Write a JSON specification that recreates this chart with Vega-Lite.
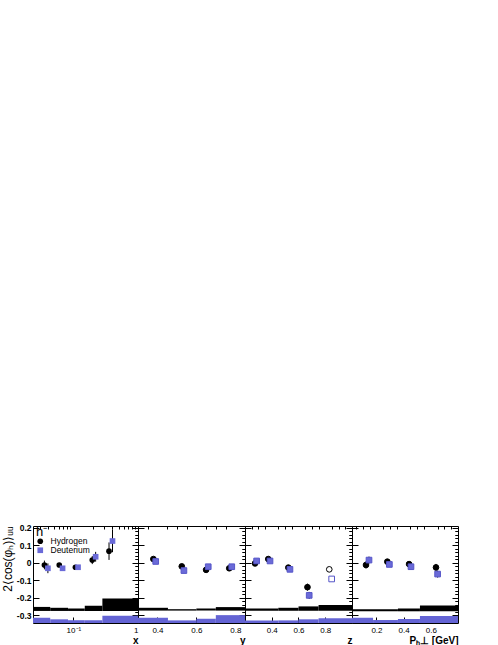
{
  "$schema": "https://vega.github.io/schema/vega-lite/v6.json",
  "padding": {"left": 0, "top": 523, "right": 0, "bottom": 0},
  "background": "white",
  "bounds": "flush",
  "spacing": 0,
  "datasets": {
    "pts": [
      {"p": 1, "s": "Hydrogen", "x": 0.0356, "v": -0.013, "lo": -0.038, "hi": 0.012, "open": false},
      {"p": 1, "s": "Hydrogen", "x": 0.0604, "v": -0.013, "lo": -0.023, "hi": -0.003, "open": false},
      {"p": 1, "s": "Hydrogen", "x": 0.1075, "v": -0.026, "lo": -0.033, "hi": -0.019, "open": false},
      {"p": 1, "s": "Hydrogen", "x": 0.196, "v": 0.015, "lo": -0.008, "hi": 0.038, "open": false},
      {"p": 1, "s": "Hydrogen", "x": 0.356, "v": 0.066, "lo": 0.016, "hi": 0.116, "open": false},
      {"p": 1, "s": "Deuterium", "x": 0.0403, "v": -0.032, "lo": -0.06, "hi": -0.004, "open": false},
      {"p": 1, "s": "Deuterium", "x": 0.068, "v": -0.032, "lo": -0.04, "hi": -0.024, "open": false},
      {"p": 1, "s": "Deuterium", "x": 0.118, "v": -0.026, "lo": -0.033, "hi": -0.019, "open": false},
      {"p": 1, "s": "Deuterium", "x": 0.221, "v": 0.034, "lo": 0.006, "hi": 0.062, "open": false},
      {"p": 1, "s": "Deuterium", "x": 0.403, "v": 0.124, "lo": 0.06, "hi": 0.19, "open": false},
      {"p": 2, "s": "Hydrogen", "x": 0.379, "v": 0.021, "lo": 0.013, "hi": 0.029, "open": false},
      {"p": 2, "s": "Hydrogen", "x": 0.525, "v": -0.021, "lo": -0.029, "hi": -0.013, "open": false},
      {"p": 2, "s": "Hydrogen", "x": 0.65, "v": -0.041, "lo": -0.053, "hi": -0.029, "open": false},
      {"p": 2, "s": "Hydrogen", "x": 0.769, "v": -0.032, "lo": -0.047, "hi": -0.017, "open": false},
      {"p": 2, "s": "Deuterium", "x": 0.391, "v": 0.007, "lo": -0.001, "hi": 0.015, "open": false},
      {"p": 2, "s": "Deuterium", "x": 0.536, "v": -0.045, "lo": -0.053, "hi": -0.037, "open": false},
      {"p": 2, "s": "Deuterium", "x": 0.661, "v": -0.023, "lo": -0.035, "hi": -0.011, "open": false},
      {"p": 2, "s": "Deuterium", "x": 0.782, "v": -0.023, "lo": -0.038, "hi": -0.008, "open": false},
      {"p": 3, "s": "Hydrogen", "x": 0.275, "v": -0.004, "lo": -0.012, "hi": 0.004, "open": false},
      {"p": 3, "s": "Hydrogen", "x": 0.374, "v": 0.021, "lo": 0.013, "hi": 0.029, "open": false},
      {"p": 3, "s": "Hydrogen", "x": 0.524, "v": -0.028, "lo": -0.038, "hi": -0.018, "open": false},
      {"p": 3, "s": "Hydrogen", "x": 0.667, "v": -0.14, "lo": -0.16, "hi": -0.12, "open": false},
      {"p": 3, "s": "Hydrogen", "x": 0.83, "v": -0.038, "lo": -0.05, "hi": -0.026, "open": true},
      {"p": 3, "s": "Deuterium", "x": 0.287, "v": 0.01, "lo": 0.002, "hi": 0.018, "open": false},
      {"p": 3, "s": "Deuterium", "x": 0.387, "v": 0.01, "lo": 0.002, "hi": 0.018, "open": false},
      {"p": 3, "s": "Deuterium", "x": 0.536, "v": -0.038, "lo": -0.048, "hi": -0.028, "open": false},
      {"p": 3, "s": "Deuterium", "x": 0.68, "v": -0.187, "lo": -0.207, "hi": -0.167, "open": false},
      {"p": 3, "s": "Deuterium", "x": 0.848, "v": -0.093, "lo": -0.105, "hi": -0.081, "open": true},
      {"p": 4, "s": "Hydrogen", "x": 0.123, "v": -0.013, "lo": -0.033, "hi": 0.007, "open": false},
      {"p": 4, "s": "Hydrogen", "x": 0.28, "v": 0.006, "lo": -0.004, "hi": 0.016, "open": false},
      {"p": 4, "s": "Hydrogen", "x": 0.44, "v": -0.008, "lo": -0.018, "hi": 0.002, "open": false},
      {"p": 4, "s": "Hydrogen", "x": 0.638, "v": -0.027, "lo": -0.047, "hi": -0.007, "open": false},
      {"p": 4, "s": "Deuterium", "x": 0.145, "v": 0.015, "lo": -0.005, "hi": 0.035, "open": false},
      {"p": 4, "s": "Deuterium", "x": 0.295, "v": -0.01, "lo": -0.02, "hi": 0.0, "open": false},
      {"p": 4, "s": "Deuterium", "x": 0.454, "v": -0.023, "lo": -0.033, "hi": -0.013, "open": false},
      {"p": 4, "s": "Deuterium", "x": 0.65, "v": -0.065, "lo": -0.085, "hi": -0.045, "open": false}
    ],
    "hist": [
      {"p": 1, "s": "H", "x0": 0.0237, "x1": 0.0438, "lo": -0.276, "hi": -0.253},
      {"p": 1, "s": "H", "x0": 0.0438, "x1": 0.0826, "lo": -0.276, "hi": -0.258},
      {"p": 1, "s": "H", "x0": 0.0826, "x1": 0.15, "lo": -0.276, "hi": -0.262},
      {"p": 1, "s": "H", "x0": 0.15, "x1": 0.281, "lo": -0.276, "hi": -0.247},
      {"p": 1, "s": "H", "x0": 0.281, "x1": 1.0, "lo": -0.276, "hi": -0.205},
      {"p": 1, "s": "D", "x0": 0.0237, "x1": 0.0438, "lo": -0.345, "hi": -0.315},
      {"p": 1, "s": "D", "x0": 0.0438, "x1": 0.0826, "lo": -0.345, "hi": -0.324},
      {"p": 1, "s": "D", "x0": 0.0826, "x1": 0.15, "lo": -0.345, "hi": -0.329},
      {"p": 1, "s": "D", "x0": 0.15, "x1": 0.281, "lo": -0.345, "hi": -0.329},
      {"p": 1, "s": "D", "x0": 0.281, "x1": 1.0, "lo": -0.345, "hi": -0.303},
      {"p": 2, "s": "H", "x0": 0.3, "x1": 0.454, "lo": -0.274, "hi": -0.258},
      {"p": 2, "s": "H", "x0": 0.454, "x1": 0.6, "lo": -0.274, "hi": -0.266},
      {"p": 2, "s": "H", "x0": 0.6, "x1": 0.7, "lo": -0.274, "hi": -0.262},
      {"p": 2, "s": "H", "x0": 0.7, "x1": 0.85, "lo": -0.274, "hi": -0.254},
      {"p": 2, "s": "D", "x0": 0.3, "x1": 0.454, "lo": -0.345, "hi": -0.315},
      {"p": 2, "s": "D", "x0": 0.454, "x1": 0.6, "lo": -0.345, "hi": -0.33},
      {"p": 2, "s": "D", "x0": 0.6, "x1": 0.7, "lo": -0.345, "hi": -0.32},
      {"p": 2, "s": "D", "x0": 0.7, "x1": 0.85, "lo": -0.345, "hi": -0.3},
      {"p": 3, "s": "H", "x0": 0.2, "x1": 0.449, "lo": -0.275, "hi": -0.262},
      {"p": 3, "s": "H", "x0": 0.449, "x1": 0.6, "lo": -0.275, "hi": -0.258},
      {"p": 3, "s": "H", "x0": 0.6, "x1": 0.75, "lo": -0.275, "hi": -0.25},
      {"p": 3, "s": "H", "x0": 0.75, "x1": 1.0, "lo": -0.275, "hi": -0.242},
      {"p": 3, "s": "D", "x0": 0.2, "x1": 0.449, "lo": -0.345, "hi": -0.33},
      {"p": 3, "s": "D", "x0": 0.449, "x1": 0.6, "lo": -0.345, "hi": -0.33},
      {"p": 3, "s": "D", "x0": 0.6, "x1": 0.75, "lo": -0.345, "hi": -0.324},
      {"p": 3, "s": "D", "x0": 0.75, "x1": 1.0, "lo": -0.345, "hi": -0.318},
      {"p": 4, "s": "H", "x0": 0.02, "x1": 0.358, "lo": -0.278, "hi": -0.267},
      {"p": 4, "s": "H", "x0": 0.358, "x1": 0.52, "lo": -0.278, "hi": -0.262},
      {"p": 4, "s": "H", "x0": 0.52, "x1": 0.8, "lo": -0.278, "hi": -0.245},
      {"p": 4, "s": "D", "x0": 0.02, "x1": 0.175, "lo": -0.345, "hi": -0.315},
      {"p": 4, "s": "D", "x0": 0.175, "x1": 0.358, "lo": -0.345, "hi": -0.328},
      {"p": 4, "s": "D", "x0": 0.358, "x1": 0.52, "lo": -0.345, "hi": -0.322},
      {"p": 4, "s": "D", "x0": 0.52, "x1": 0.8, "lo": -0.345, "hi": -0.305}
    ]
  },
  "hconcat": [
    {
      "width": 105, "height": 97,
      "layer": [
        {
          "data": {"name": "hist"},
          "transform": [{"filter": "datum.p == 1 && datum.s == 'H'"}],
          "mark": {"type": "rect", "color": "black"},
          "encoding": {
            "x": {"field": "x0", "type": "quantitative", "scale": {"type": "log", "domain": [0.0237, 1], "nice": false},
                  "axis": {"values": [0.1, 1], "labelExpr": "datum.value == 1 ? '1' : '10⁻¹'", "tickSize": -6, "labelPadding": 9, "title": "x", "titleAnchor": "end", "titleFontSize": 10, "titleFontWeight": "bold", "titlePadding": 1}},
            "x2": {"field": "x1"},
            "y": {"field": "lo", "type": "quantitative", "scale": {"domain": [-0.345, 0.21], "nice": false, "zero": false},
                  "axis": {"values": [-0.3, -0.2, -0.1, 0, 0.1, 0.2], "tickSize": -6, "labelPadding": 8, "labelFontSize": 8.5, "labelFontWeight": "bold", "labelExpr": "datum.value == 0 ? '0' : replace(format(datum.value, '.1f'), '−', '-')", "title": "2⟨cos(φₕ)⟩ᵤᵤ", "titleAnchor": "end", "titleFontSize": 12, "titlePadding": 2}},
            "y2": {"field": "hi"}
          }
        },
        {
          "data": {"name": "hist"},
          "transform": [{"filter": "datum.p == 1 && datum.s == 'D'"}],
          "mark": {"type": "rect", "color": "#6464d4"},
          "encoding": {
            "x": {"field": "x0", "type": "quantitative", "scale": {"type": "log", "domain": [0.0237, 1], "nice": false},
                  "axis": {"values": [0.03, 0.04, 0.05, 0.06, 0.07, 0.08, 0.09, 0.2, 0.3, 0.4, 0.5, 0.6, 0.7, 0.8, 0.9], "tickSize": -3, "labels": false, "title": null}},
            "x2": {"field": "x1"},
            "y": {"field": "lo", "type": "quantitative", "scale": {"domain": [-0.345, 0.21], "nice": false, "zero": false},
                  "axis": {"values": [-0.34, -0.32, -0.28, -0.26, -0.24, -0.22, -0.18, -0.16, -0.14, -0.12, -0.08, -0.06, -0.04, -0.02, 0.02, 0.04, 0.06, 0.08, 0.12, 0.14, 0.16, 0.18], "tickSize": -3, "labels": false, "title": null}},
            "y2": {"field": "hi"}
          }
        },
        {
          "mark": {"type": "rule", "color": "black", "strokeWidth": 1},
          "encoding": {"y": {"datum": 0, "type": "quantitative", "scale": {"domain": [-0.345, 0.21], "nice": false, "zero": false}, "axis": null}}
        },
        {
          "data": {"name": "pts"},
          "transform": [{"filter": "datum.p == 1"}],
          "mark": {"type": "rule", "strokeWidth": 1, "color": "black"},
          "encoding": {
            "x": {"field": "x", "type": "quantitative", "scale": {"type": "log", "domain": [0.0237, 1], "nice": false}, "axis": null},
            "y": {"field": "lo", "type": "quantitative", "scale": {"domain": [-0.345, 0.21], "nice": false, "zero": false},
                  "axis": {"orient": "right", "values": [-0.3, -0.2, -0.1, 0, 0.1, 0.2], "tickSize": -6, "labels": false, "title": null}},
            "y2": {"field": "hi"}
          }
        },
        {
          "data": {"name": "pts"},
          "transform": [{"filter": "datum.p == 1"}],
          "mark": {"type": "point", "filled": true, "size": 32, "opacity": 1},
          "encoding": {
            "x": {"field": "x", "type": "quantitative", "scale": {"type": "log", "domain": [0.0237, 1], "nice": false}, "axis": null},
            "y": {"field": "v", "type": "quantitative", "scale": {"domain": [-0.345, 0.21], "nice": false, "zero": false},
                  "axis": {"orient": "right", "values": [-0.34, -0.32, -0.28, -0.26, -0.24, -0.22, -0.18, -0.16, -0.14, -0.12, -0.08, -0.06, -0.04, -0.02, 0.02, 0.04, 0.06, 0.08, 0.12, 0.14, 0.16, 0.18], "tickSize": -3, "labels": false, "title": null}},
            "shape": {"field": "s", "type": "nominal", "scale": {"domain": ["Hydrogen", "Deuterium"], "range": ["circle", "square"]},
                      "legend": {"orient": "none", "legendX": 3, "legendY": 0, "title": "h⁻", "titleFontSize": 13, "titleFontWeight": "normal", "titlePadding": -2, "labelFontSize": 8.5, "symbolSize": 32, "rowPadding": 0, "labelOffset": 6}},
            "color": {"field": "s", "type": "nominal", "scale": {"domain": ["Hydrogen", "Deuterium"], "range": ["black", "#6a6ad8"]},
                      "legend": {"orient": "none", "legendX": 3, "legendY": 0, "title": "h⁻", "titleFontSize": 13, "titleFontWeight": "normal", "titlePadding": -2, "labelFontSize": 8.5, "symbolSize": 32, "rowPadding": 0, "labelOffset": 6}}
          }
        }
      ],
      "resolve": {"axis": {"x": "independent", "y": "independent"}}
    },
    {
      "width": 107, "height": 97,
      "layer": [
        {
          "data": {"name": "hist"},
          "transform": [{"filter": "datum.p == 2 && datum.s == 'H'"}],
          "mark": {"type": "rect", "color": "black"},
          "encoding": {
            "x": {"field": "x0", "type": "quantitative", "scale": {"domain": [0.3, 0.85], "nice": false, "zero": false},
                  "axis": {"values": [0.4, 0.6, 0.8], "format": ".1f", "tickSize": -6, "labelPadding": 9, "title": "y", "titleAnchor": "end", "titleFontSize": 10, "titleFontWeight": "bold", "titlePadding": 1}},
            "x2": {"field": "x1"},
            "y": {"field": "lo", "type": "quantitative", "scale": {"domain": [-0.345, 0.21], "nice": false, "zero": false},
                  "axis": {"values": [-0.3, -0.2, -0.1, 0, 0.1, 0.2], "tickSize": -6, "labels": false, "title": null}},
            "y2": {"field": "hi"}
          }
        },
        {
          "data": {"name": "hist"},
          "transform": [{"filter": "datum.p == 2 && datum.s == 'D'"}],
          "mark": {"type": "rect", "color": "#6464d4"},
          "encoding": {
            "x": {"field": "x0", "type": "quantitative", "scale": {"domain": [0.3, 0.85], "nice": false, "zero": false},
                  "axis": {"values": [0.35, 0.45, 0.5, 0.55, 0.65, 0.7, 0.75, 0.85], "tickSize": -3, "labels": false, "title": null}},
            "x2": {"field": "x1"},
            "y": {"field": "lo", "type": "quantitative", "scale": {"domain": [-0.345, 0.21], "nice": false, "zero": false},
                  "axis": {"values": [-0.34, -0.32, -0.28, -0.26, -0.24, -0.22, -0.18, -0.16, -0.14, -0.12, -0.08, -0.06, -0.04, -0.02, 0.02, 0.04, 0.06, 0.08, 0.12, 0.14, 0.16, 0.18], "tickSize": -3, "labels": false, "title": null}},
            "y2": {"field": "hi"}
          }
        },
        {
          "mark": {"type": "rule", "color": "black", "strokeWidth": 1},
          "encoding": {"y": {"datum": 0, "type": "quantitative", "scale": {"domain": [-0.345, 0.21], "nice": false, "zero": false}, "axis": null}}
        },
        {
          "data": {"name": "pts"},
          "transform": [{"filter": "datum.p == 2"}],
          "mark": {"type": "rule", "strokeWidth": 1, "color": "black"},
          "encoding": {
            "x": {"field": "x", "type": "quantitative", "scale": {"domain": [0.3, 0.85], "nice": false, "zero": false}, "axis": null},
            "y": {"field": "lo", "type": "quantitative", "scale": {"domain": [-0.345, 0.21], "nice": false, "zero": false},
                  "axis": {"orient": "right", "values": [-0.3, -0.2, -0.1, 0, 0.1, 0.2], "tickSize": -6, "labels": false, "title": null}},
            "y2": {"field": "hi"}
          }
        },
        {
          "data": {"name": "pts"},
          "transform": [{"filter": "datum.p == 2"}],
          "mark": {"type": "point", "filled": true, "size": 32, "strokeWidth": 1, "opacity": 1},
          "encoding": {
            "x": {"field": "x", "type": "quantitative", "scale": {"domain": [0.3, 0.85], "nice": false, "zero": false}, "axis": null},
            "y": {"field": "v", "type": "quantitative", "scale": {"domain": [-0.345, 0.21], "nice": false, "zero": false},
                  "axis": {"orient": "right", "values": [-0.34, -0.32, -0.28, -0.26, -0.24, -0.22, -0.18, -0.16, -0.14, -0.12, -0.08, -0.06, -0.04, -0.02, 0.02, 0.04, 0.06, 0.08, 0.12, 0.14, 0.16, 0.18], "tickSize": -3, "labels": false, "title": null}},
            "shape": {"field": "s", "type": "nominal", "scale": {"domain": ["Hydrogen", "Deuterium"], "range": ["circle", "square"]}, "legend": null},
            "fill": {"condition": {"test": "datum.open", "value": "white"}, "field": "s", "type": "nominal", "scale": {"domain": ["Hydrogen", "Deuterium"], "range": ["black", "#6a6ad8"]}, "legend": null},
            "stroke": {"field": "s", "type": "nominal", "scale": {"domain": ["Hydrogen", "Deuterium"], "range": ["black", "#5555c8"]}, "legend": null}
          }
        }
      ],
      "resolve": {"axis": {"x": "independent", "y": "independent"}}
    },
    {
      "width": 107, "height": 97,
      "layer": [
        {
          "data": {"name": "hist"},
          "transform": [{"filter": "datum.p == 3 && datum.s == 'H'"}],
          "mark": {"type": "rect", "color": "black"},
          "encoding": {
            "x": {"field": "x0", "type": "quantitative", "scale": {"domain": [0.2, 1.0], "nice": false, "zero": false},
                  "axis": {"values": [0.4, 0.6, 0.8], "format": ".1f", "tickSize": -6, "labelPadding": 9, "title": "z", "titleAnchor": "end", "titleFontSize": 10, "titleFontWeight": "bold", "titlePadding": 1}},
            "x2": {"field": "x1"},
            "y": {"field": "lo", "type": "quantitative", "scale": {"domain": [-0.345, 0.21], "nice": false, "zero": false},
                  "axis": {"values": [-0.3, -0.2, -0.1, 0, 0.1, 0.2], "tickSize": -6, "labels": false, "title": null}},
            "y2": {"field": "hi"}
          }
        },
        {
          "data": {"name": "hist"},
          "transform": [{"filter": "datum.p == 3 && datum.s == 'D'"}],
          "mark": {"type": "rect", "color": "#6464d4"},
          "encoding": {
            "x": {"field": "x0", "type": "quantitative", "scale": {"domain": [0.2, 1.0], "nice": false, "zero": false},
                  "axis": {"values": [0.25, 0.3, 0.35, 0.45, 0.5, 0.55, 0.65, 0.7, 0.75, 0.85, 0.9, 0.95], "tickSize": -3, "labels": false, "title": null}},
            "x2": {"field": "x1"},
            "y": {"field": "lo", "type": "quantitative", "scale": {"domain": [-0.345, 0.21], "nice": false, "zero": false},
                  "axis": {"values": [-0.34, -0.32, -0.28, -0.26, -0.24, -0.22, -0.18, -0.16, -0.14, -0.12, -0.08, -0.06, -0.04, -0.02, 0.02, 0.04, 0.06, 0.08, 0.12, 0.14, 0.16, 0.18], "tickSize": -3, "labels": false, "title": null}},
            "y2": {"field": "hi"}
          }
        },
        {
          "mark": {"type": "rule", "color": "black", "strokeWidth": 1},
          "encoding": {"y": {"datum": 0, "type": "quantitative", "scale": {"domain": [-0.345, 0.21], "nice": false, "zero": false}, "axis": null}}
        },
        {
          "mark": {"type": "rule", "color": "black", "strokeWidth": 1, "strokeDash": [3, 2]},
          "encoding": {"x": {"datum": 0.75, "type": "quantitative", "scale": {"domain": [0.2, 1.0], "nice": false, "zero": false}, "axis": null}}
        },
        {
          "data": {"name": "pts"},
          "transform": [{"filter": "datum.p == 3"}],
          "mark": {"type": "rule", "strokeWidth": 1, "color": "black"},
          "encoding": {
            "x": {"field": "x", "type": "quantitative", "scale": {"domain": [0.2, 1.0], "nice": false, "zero": false}, "axis": null},
            "y": {"field": "lo", "type": "quantitative", "scale": {"domain": [-0.345, 0.21], "nice": false, "zero": false},
                  "axis": {"orient": "right", "values": [-0.3, -0.2, -0.1, 0, 0.1, 0.2], "tickSize": -6, "labels": false, "title": null}},
            "y2": {"field": "hi"}
          }
        },
        {
          "data": {"name": "pts"},
          "transform": [{"filter": "datum.p == 3"}],
          "mark": {"type": "point", "filled": true, "size": 32, "strokeWidth": 1, "opacity": 1},
          "encoding": {
            "x": {"field": "x", "type": "quantitative", "scale": {"domain": [0.2, 1.0], "nice": false, "zero": false}, "axis": null},
            "y": {"field": "v", "type": "quantitative", "scale": {"domain": [-0.345, 0.21], "nice": false, "zero": false},
                  "axis": {"orient": "right", "values": [-0.34, -0.32, -0.28, -0.26, -0.24, -0.22, -0.18, -0.16, -0.14, -0.12, -0.08, -0.06, -0.04, -0.02, 0.02, 0.04, 0.06, 0.08, 0.12, 0.14, 0.16, 0.18], "tickSize": -3, "labels": false, "title": null}},
            "shape": {"field": "s", "type": "nominal", "scale": {"domain": ["Hydrogen", "Deuterium"], "range": ["circle", "square"]}, "legend": null},
            "fill": {"condition": {"test": "datum.open", "value": "white"}, "field": "s", "type": "nominal", "scale": {"domain": ["Hydrogen", "Deuterium"], "range": ["black", "#6a6ad8"]}, "legend": null},
            "stroke": {"field": "s", "type": "nominal", "scale": {"domain": ["Hydrogen", "Deuterium"], "range": ["black", "#5555c8"]}, "legend": null}
          }
        }
      ],
      "resolve": {"axis": {"x": "independent", "y": "independent"}}
    },
    {
      "width": 106, "height": 97,
      "layer": [
        {
          "data": {"name": "hist"},
          "transform": [{"filter": "datum.p == 4 && datum.s == 'H'"}],
          "mark": {"type": "rect", "color": "black"},
          "encoding": {
            "x": {"field": "x0", "type": "quantitative", "scale": {"domain": [0.02, 0.8], "nice": false, "zero": false},
                  "axis": {"values": [0.2, 0.4, 0.6], "format": ".1f", "tickSize": -6, "labelPadding": 9, "title": "Pₕ⊥ [GeV]", "titleAnchor": "end", "titleFontSize": 10, "titleFontWeight": "bold", "titlePadding": 1}},
            "x2": {"field": "x1"},
            "y": {"field": "lo", "type": "quantitative", "scale": {"domain": [-0.345, 0.21], "nice": false, "zero": false},
                  "axis": {"values": [-0.3, -0.2, -0.1, 0, 0.1, 0.2], "tickSize": -6, "labels": false, "title": null}},
            "y2": {"field": "hi"}
          }
        },
        {
          "data": {"name": "hist"},
          "transform": [{"filter": "datum.p == 4 && datum.s == 'D'"}],
          "mark": {"type": "rect", "color": "#6464d4"},
          "encoding": {
            "x": {"field": "x0", "type": "quantitative", "scale": {"domain": [0.02, 0.8], "nice": false, "zero": false},
                  "axis": {"values": [0.05, 0.1, 0.15, 0.25, 0.3, 0.35, 0.45, 0.5, 0.55, 0.65, 0.7, 0.75], "tickSize": -3, "labels": false, "title": null}},
            "x2": {"field": "x1"},
            "y": {"field": "lo", "type": "quantitative", "scale": {"domain": [-0.345, 0.21], "nice": false, "zero": false},
                  "axis": {"values": [-0.34, -0.32, -0.28, -0.26, -0.24, -0.22, -0.18, -0.16, -0.14, -0.12, -0.08, -0.06, -0.04, -0.02, 0.02, 0.04, 0.06, 0.08, 0.12, 0.14, 0.16, 0.18], "tickSize": -3, "labels": false, "title": null}},
            "y2": {"field": "hi"}
          }
        },
        {
          "mark": {"type": "rule", "color": "black", "strokeWidth": 1},
          "encoding": {"y": {"datum": 0, "type": "quantitative", "scale": {"domain": [-0.345, 0.21], "nice": false, "zero": false}, "axis": null}}
        },
        {
          "mark": {"type": "text", "text": "HERMES Preliminary", "color": "red", "fontWeight": "bold", "fontSize": 9, "font": "Liberation Sans"},
          "encoding": {
            "x": {"datum": 0.41, "type": "quantitative", "scale": {"domain": [0.02, 0.8], "nice": false, "zero": false}, "axis": null},
            "y": {"datum": 0.17, "type": "quantitative", "scale": {"domain": [-0.345, 0.21], "nice": false, "zero": false}, "axis": null}
          }
        },
        {
          "data": {"name": "pts"},
          "transform": [{"filter": "datum.p == 4"}],
          "mark": {"type": "rule", "strokeWidth": 1, "color": "black"},
          "encoding": {
            "x": {"field": "x", "type": "quantitative", "scale": {"domain": [0.02, 0.8], "nice": false, "zero": false}, "axis": null},
            "y": {"field": "lo", "type": "quantitative", "scale": {"domain": [-0.345, 0.21], "nice": false, "zero": false},
                  "axis": {"orient": "right", "values": [-0.3, -0.2, -0.1, 0, 0.1, 0.2], "tickSize": -6, "labels": false, "title": null}},
            "y2": {"field": "hi"}
          }
        },
        {
          "data": {"name": "pts"},
          "transform": [{"filter": "datum.p == 4"}],
          "mark": {"type": "point", "filled": true, "size": 32, "strokeWidth": 1, "opacity": 1},
          "encoding": {
            "x": {"field": "x", "type": "quantitative", "scale": {"domain": [0.02, 0.8], "nice": false, "zero": false}, "axis": null},
            "y": {"field": "v", "type": "quantitative", "scale": {"domain": [-0.345, 0.21], "nice": false, "zero": false},
                  "axis": {"orient": "right", "values": [-0.34, -0.32, -0.28, -0.26, -0.24, -0.22, -0.18, -0.16, -0.14, -0.12, -0.08, -0.06, -0.04, -0.02, 0.02, 0.04, 0.06, 0.08, 0.12, 0.14, 0.16, 0.18], "tickSize": -3, "labels": false, "title": null}},
            "shape": {"field": "s", "type": "nominal", "scale": {"domain": ["Hydrogen", "Deuterium"], "range": ["circle", "square"]}, "legend": null},
            "fill": {"condition": {"test": "datum.open", "value": "white"}, "field": "s", "type": "nominal", "scale": {"domain": ["Hydrogen", "Deuterium"], "range": ["black", "#6a6ad8"]}, "legend": null},
            "stroke": {"field": "s", "type": "nominal", "scale": {"domain": ["Hydrogen", "Deuterium"], "range": ["black", "#5555c8"]}, "legend": null}
          }
        }
      ],
      "resolve": {"axis": {"x": "independent", "y": "independent"}}
    }
  ],
  "resolve": {"scale": {"color": "independent", "fill": "independent", "shape": "independent", "stroke": "independent"}},
  "config": {
    "font": "Liberation Sans",
    "view": {"stroke": "black", "strokeWidth": 1},
    "axis": {"domain": false, "grid": false, "tickColor": "black", "tickWidth": 1, "labelColor": "black", "labelFont": "Liberation Sans", "labelFontSize": 8, "titleFont": "Liberation Sans", "titleFontWeight": "normal", "titleColor": "black"},
    "legend": {"labelFont": "Liberation Sans", "titleFont": "Liberation Sans", "labelColor": "black", "titleColor": "black"}
  }
}
